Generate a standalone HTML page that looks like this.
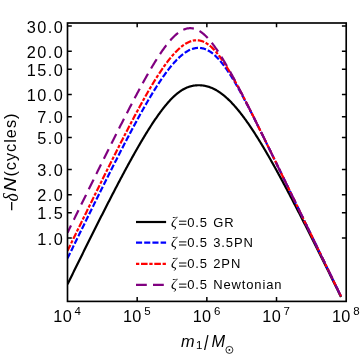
<!DOCTYPE html>
<html><head><meta charset="utf-8"><title>chart</title><style>html,body{margin:0;padding:0;background:#fff}body{width:361px;height:354px;overflow:hidden;font-family:"Liberation Sans",sans-serif}</style></head><body>
<svg width="361" height="354" viewBox="0 0 361 354" style="display:block;will-change:transform;font-family:'Liberation Sans',sans-serif">
<rect x="0" y="0" width="361" height="354" fill="#ffffff"/>
<defs><clipPath id="cp"><rect x="67.50" y="23.00" width="278.70" height="278.40"/></clipPath></defs>
<g clip-path="url(#cp)" fill="none" stroke-linecap="butt" stroke-linejoin="round">
<path d="M67.50,284.33 L68.00,283.31 L68.50,282.29 L69.00,281.27 L69.50,280.25 L70.00,279.23 L70.50,278.22 L71.00,277.20 L71.50,276.18 L72.00,275.17 L72.50,274.15 L73.00,273.13 L73.50,272.12 L74.00,271.10 L74.50,270.09 L75.00,269.07 L75.50,268.06 L76.00,267.04 L76.50,266.03 L77.00,265.02 L77.50,264.00 L78.00,262.99 L78.50,261.98 L79.00,260.96 L79.50,259.95 L80.00,258.94 L80.50,257.93 L81.00,256.92 L81.50,255.91 L82.00,254.90 L82.50,253.89 L83.00,252.88 L83.50,251.87 L84.00,250.86 L84.50,249.85 L85.00,248.84 L85.50,247.83 L86.00,246.83 L86.50,245.82 L87.00,244.81 L87.50,243.81 L88.00,242.80 L88.50,241.80 L89.00,240.79 L89.50,239.79 L90.00,238.78 L90.50,237.78 L91.00,236.78 L91.50,235.78 L92.00,234.78 L92.50,233.78 L93.00,232.78 L93.50,231.78 L94.00,230.78 L94.50,229.78 L95.00,228.78 L95.50,227.78 L96.00,226.79 L96.50,225.79 L97.00,224.80 L97.50,223.80 L98.00,222.81 L98.50,221.81 L99.00,220.82 L99.50,219.83 L100.00,218.84 L100.50,217.85 L101.00,216.86 L101.50,215.87 L102.00,214.88 L102.50,213.89 L103.00,212.91 L103.50,211.92 L104.00,210.94 L104.50,209.95 L105.00,208.97 L105.50,207.99 L106.00,207.01 L106.50,206.03 L107.00,205.05 L107.50,204.07 L108.00,203.09 L108.50,202.12 L109.00,201.14 L109.50,200.17 L110.00,199.19 L110.50,198.22 L111.00,197.25 L111.50,196.28 L112.00,195.31 L112.50,194.34 L113.00,193.38 L113.50,192.41 L114.00,191.45 L114.50,190.49 L115.00,189.52 L115.50,188.56 L116.00,187.61 L116.50,186.65 L117.00,185.69 L117.50,184.74 L118.00,183.78 L118.50,182.83 L119.00,181.88 L119.50,180.93 L120.00,179.99 L120.50,179.04 L121.00,178.10 L121.50,177.15 L122.00,176.21 L122.50,175.27 L123.00,174.34 L123.50,173.40 L124.00,172.47 L124.50,171.54 L125.00,170.60 L125.50,169.68 L126.00,168.75 L126.50,167.83 L127.00,166.90 L127.50,165.98 L128.00,165.06 L128.50,164.15 L129.00,163.23 L129.50,162.32 L130.00,161.41 L130.50,160.50 L131.00,159.60 L131.50,158.69 L132.00,157.79 L132.50,156.89 L133.00,156.00 L133.50,155.10 L134.00,154.21 L134.50,153.32 L135.00,152.44 L135.50,151.55 L136.00,150.67 L136.50,149.80 L137.00,148.92 L137.50,148.05 L138.00,147.18 L138.50,146.31 L139.00,145.45 L139.50,144.59 L140.00,143.73 L140.50,142.88 L141.00,142.02 L141.50,141.18 L142.00,140.33 L142.50,139.49 L143.00,138.65 L143.50,137.82 L144.00,136.99 L144.50,136.16 L145.00,135.33 L145.50,134.51 L146.00,133.70 L146.50,132.89 L147.00,132.08 L147.50,131.27 L148.00,130.47 L148.50,129.67 L149.00,128.88 L149.50,128.09 L150.00,127.31 L150.50,126.53 L151.00,125.75 L151.50,124.98 L152.00,124.22 L152.50,123.45 L153.00,122.70 L153.50,121.94 L154.00,121.20 L154.50,120.45 L155.00,119.72 L155.50,118.98 L156.00,118.26 L156.50,117.53 L157.00,116.82 L157.50,116.11 L158.00,115.40 L158.50,114.70 L159.00,114.00 L159.50,113.32 L160.00,112.63 L160.50,111.96 L161.00,111.29 L161.50,110.62 L162.00,109.96 L162.50,109.31 L163.00,108.66 L163.50,108.03 L164.00,107.39 L164.50,106.77 L165.00,106.15 L165.50,105.54 L166.00,104.93 L166.50,104.34 L167.00,103.75 L167.50,103.17 L168.00,102.59 L168.50,102.02 L169.00,101.47 L169.50,100.91 L170.00,100.37 L170.50,99.84 L171.00,99.31 L171.50,98.79 L172.00,98.29 L172.50,97.79 L173.00,97.29 L173.50,96.81 L174.00,96.34 L174.50,95.88 L175.00,95.42 L175.50,94.98 L176.00,94.54 L176.50,94.12 L177.00,93.70 L177.50,93.30 L178.00,92.90 L178.50,92.52 L179.00,92.14 L179.50,91.78 L180.00,91.42 L180.50,91.08 L181.00,90.74 L181.50,90.42 L182.00,90.11 L182.50,89.81 L183.00,89.51 L183.50,89.23 L184.00,88.96 L184.50,88.70 L185.00,88.45 L185.50,88.21 L186.00,87.98 L186.50,87.76 L187.00,87.55 L187.50,87.35 L188.00,87.16 L188.50,86.98 L189.00,86.81 L189.50,86.65 L190.00,86.50 L190.50,86.35 L191.00,86.22 L191.50,86.10 L192.00,85.98 L192.50,85.87 L193.00,85.78 L193.50,85.69 L194.00,85.60 L194.50,85.53 L195.00,85.47 L195.50,85.41 L196.00,85.36 L196.50,85.32 L197.00,85.29 L197.50,85.27 L198.00,85.25 L198.50,85.24 L199.00,85.24 L199.50,85.25 L200.00,85.27 L200.50,85.29 L201.00,85.32 L201.50,85.36 L202.00,85.41 L202.50,85.47 L203.00,85.53 L203.50,85.60 L204.00,85.68 L204.50,85.77 L205.00,85.86 L205.50,85.97 L206.00,86.08 L206.50,86.20 L207.00,86.33 L207.50,86.46 L208.00,86.61 L208.50,86.76 L209.00,86.92 L209.50,87.09 L210.00,87.27 L210.50,87.45 L211.00,87.65 L211.50,87.85 L212.00,88.06 L212.50,88.28 L213.00,88.51 L213.50,88.74 L214.00,88.99 L214.50,89.24 L215.00,89.50 L215.50,89.77 L216.00,90.05 L216.50,90.33 L217.00,90.63 L217.50,90.93 L218.00,91.24 L218.50,91.56 L219.00,91.89 L219.50,92.22 L220.00,92.57 L220.50,92.92 L221.00,93.28 L221.50,93.64 L222.00,94.02 L222.50,94.40 L223.00,94.79 L223.50,95.19 L224.00,95.60 L224.50,96.01 L225.00,96.44 L225.50,96.87 L226.00,97.31 L226.50,97.75 L227.00,98.20 L227.50,98.66 L228.00,99.13 L228.50,99.61 L229.00,100.09 L229.50,100.58 L230.00,101.08 L230.50,101.58 L231.00,102.09 L231.50,102.61 L232.00,103.14 L232.50,103.67 L233.00,104.21 L233.50,104.75 L234.00,105.30 L234.50,105.86 L235.00,106.43 L235.50,107.00 L236.00,107.58 L236.50,108.17 L237.00,108.76 L237.50,109.35 L238.00,109.96 L238.50,110.57 L239.00,111.19 L239.50,111.81 L240.00,112.44 L240.50,113.07 L241.00,113.71 L241.50,114.36 L242.00,115.01 L242.50,115.66 L243.00,116.33 L243.50,116.99 L244.00,117.67 L244.50,118.35 L245.00,119.03 L245.50,119.72 L246.00,120.41 L246.50,121.11 L247.00,121.82 L247.50,122.53 L248.00,123.24 L248.50,123.96 L249.00,124.69 L249.50,125.42 L250.00,126.15 L250.50,126.89 L251.00,127.63 L251.50,128.38 L252.00,129.13 L252.50,129.89 L253.00,130.65 L253.50,131.41 L254.00,132.18 L254.50,132.95 L255.00,133.73 L255.50,134.51 L256.00,135.30 L256.50,136.09 L257.00,136.88 L257.50,137.68 L258.00,138.48 L258.50,139.28 L259.00,140.09 L259.50,140.90 L260.00,141.72 L260.50,142.54 L261.00,143.36 L261.50,144.18 L262.00,145.01 L262.50,145.84 L263.00,146.68 L263.50,147.52 L264.00,148.36 L264.50,149.21 L265.00,150.05 L265.50,150.91 L266.00,151.76 L266.50,152.62 L267.00,153.48 L267.50,154.34 L268.00,155.20 L268.50,156.07 L269.00,156.94 L269.50,157.82 L270.00,158.69 L270.50,159.57 L271.00,160.45 L271.50,161.34 L272.00,162.22 L272.50,163.11 L273.00,164.00 L273.50,164.90 L274.00,165.79 L274.50,166.69 L275.00,167.59 L275.50,168.50 L276.00,169.40 L276.50,170.31 L277.00,171.22 L277.50,172.13 L278.00,173.04 L278.50,173.96 L279.00,174.87 L279.50,175.79 L280.00,176.71 L280.50,177.64 L281.00,178.56 L281.50,179.49 L282.00,180.42 L282.50,181.35 L283.00,182.28 L283.50,183.21 L284.00,184.15 L284.50,185.08 L285.00,186.02 L285.50,186.96 L286.00,187.90 L286.50,188.85 L287.00,189.79 L287.50,190.74 L288.00,191.68 L288.50,192.63 L289.00,193.58 L289.50,194.54 L290.00,195.49 L290.50,196.44 L291.00,197.40 L291.50,198.36 L292.00,199.31 L292.50,200.27 L293.00,201.24 L293.50,202.20 L294.00,203.16 L294.50,204.13 L295.00,205.09 L295.50,206.06 L296.00,207.03 L296.50,207.99 L297.00,208.96 L297.50,209.94 L298.00,210.91 L298.50,211.88 L299.00,212.86 L299.50,213.83 L300.00,214.81 L300.50,215.78 L301.00,216.76 L301.50,217.74 L302.00,218.72 L302.50,219.70 L303.00,220.68 L303.50,221.67 L304.00,222.65 L304.50,223.63 L305.00,224.62 L305.50,225.60 L306.00,226.59 L306.50,227.58 L307.00,228.57 L307.50,229.55 L308.00,230.54 L308.50,231.53 L309.00,232.53 L309.50,233.52 L310.00,234.51 L310.50,235.50 L311.00,236.50 L311.50,237.49 L312.00,238.49 L312.50,239.48 L313.00,240.48 L313.50,241.47 L314.00,242.47 L314.50,243.47 L315.00,244.47 L315.50,245.47 L316.00,246.47 L316.50,247.47 L317.00,248.47 L317.50,249.47 L318.00,250.47 L318.50,251.47 L319.00,252.48 L319.50,253.48 L320.00,254.48 L320.50,255.49 L321.00,256.49 L321.50,257.50 L322.00,258.50 L322.50,259.51 L323.00,260.51 L323.50,261.52 L324.00,262.53 L324.50,263.54 L325.00,264.54 L325.50,265.55 L326.00,266.56 L326.50,267.57 L327.00,268.58 L327.50,269.59 L328.00,270.60 L328.50,271.61 L329.00,272.62 L329.50,273.63 L330.00,274.64 L330.50,275.66 L331.00,276.67 L331.50,277.68 L332.00,278.69 L332.50,279.71 L333.00,280.72 L333.50,281.73 L334.00,282.75 L334.50,283.76 L335.00,284.78 L335.50,285.79 L336.00,286.81 L336.50,287.82 L337.00,288.84 L337.50,289.86 L338.00,290.87 L338.50,291.89 L339.00,292.90 L339.50,293.92 L340.00,294.94 L340.50,295.96 L341.00,296.97" stroke="#000000" stroke-width="2.20"/>
<path d="M67.50,258.38 L68.00,257.36 L68.50,256.33 L69.00,255.31 L69.50,254.29 L70.00,253.26 L70.50,252.24 L71.00,251.22 L71.50,250.19 L72.00,249.17 L72.50,248.15 L73.00,247.12 L73.50,246.10 L74.00,245.08 L74.50,244.06 L75.00,243.03 L75.50,242.01 L76.00,240.99 L76.50,239.97 L77.00,238.95 L77.50,237.93 L78.00,236.91 L78.50,235.88 L79.00,234.86 L79.50,233.84 L80.00,232.82 L80.50,231.80 L81.00,230.78 L81.50,229.76 L82.00,228.74 L82.50,227.73 L83.00,226.71 L83.50,225.69 L84.00,224.67 L84.50,223.65 L85.00,222.63 L85.50,221.62 L86.00,220.60 L86.50,219.58 L87.00,218.57 L87.50,217.55 L88.00,216.53 L88.50,215.52 L89.00,214.50 L89.50,213.49 L90.00,212.47 L90.50,211.46 L91.00,210.44 L91.50,209.43 L92.00,208.41 L92.50,207.40 L93.00,206.39 L93.50,205.38 L94.00,204.36 L94.50,203.35 L95.00,202.34 L95.50,201.33 L96.00,200.32 L96.50,199.31 L97.00,198.30 L97.50,197.29 L98.00,196.28 L98.50,195.28 L99.00,194.27 L99.50,193.26 L100.00,192.25 L100.50,191.25 L101.00,190.24 L101.50,189.24 L102.00,188.23 L102.50,187.23 L103.00,186.22 L103.50,185.22 L104.00,184.22 L104.50,183.22 L105.00,182.22 L105.50,181.22 L106.00,180.22 L106.50,179.22 L107.00,178.22 L107.50,177.22 L108.00,176.22 L108.50,175.23 L109.00,174.23 L109.50,173.24 L110.00,172.24 L110.50,171.25 L111.00,170.26 L111.50,169.26 L112.00,168.27 L112.50,167.28 L113.00,166.29 L113.50,165.31 L114.00,164.32 L114.50,163.33 L115.00,162.35 L115.50,161.36 L116.00,160.38 L116.50,159.39 L117.00,158.41 L117.50,157.43 L118.00,156.45 L118.50,155.47 L119.00,154.50 L119.50,153.52 L120.00,152.55 L120.50,151.57 L121.00,150.60 L121.50,149.63 L122.00,148.66 L122.50,147.69 L123.00,146.72 L123.50,145.75 L124.00,144.79 L124.50,143.82 L125.00,142.86 L125.50,141.90 L126.00,140.94 L126.50,139.98 L127.00,139.03 L127.50,138.07 L128.00,137.12 L128.50,136.17 L129.00,135.22 L129.50,134.27 L130.00,133.32 L130.50,132.38 L131.00,131.43 L131.50,130.49 L132.00,129.55 L132.50,128.61 L133.00,127.68 L133.50,126.75 L134.00,125.81 L134.50,124.88 L135.00,123.96 L135.50,123.03 L136.00,122.11 L136.50,121.19 L137.00,120.27 L137.50,119.35 L138.00,118.44 L138.50,117.52 L139.00,116.61 L139.50,115.71 L140.00,114.80 L140.50,113.90 L141.00,113.00 L141.50,112.11 L142.00,111.21 L142.50,110.32 L143.00,109.43 L143.50,108.55 L144.00,107.66 L144.50,106.79 L145.00,105.91 L145.50,105.04 L146.00,104.17 L146.50,103.30 L147.00,102.44 L147.50,101.57 L148.00,100.72 L148.50,99.86 L149.00,99.01 L149.50,98.17 L150.00,97.33 L150.50,96.49 L151.00,95.65 L151.50,94.82 L152.00,93.99 L152.50,93.17 L153.00,92.35 L153.50,91.54 L154.00,90.73 L154.50,89.92 L155.00,89.12 L155.50,88.32 L156.00,87.53 L156.50,86.74 L157.00,85.96 L157.50,85.18 L158.00,84.40 L158.50,83.63 L159.00,82.87 L159.50,82.11 L160.00,81.36 L160.50,80.61 L161.00,79.87 L161.50,79.13 L162.00,78.40 L162.50,77.67 L163.00,76.95 L163.50,76.24 L164.00,75.53 L164.50,74.83 L165.00,74.13 L165.50,73.45 L166.00,72.76 L166.50,72.09 L167.00,71.42 L167.50,70.75 L168.00,70.10 L168.50,69.45 L169.00,68.81 L169.50,68.17 L170.00,67.54 L170.50,66.92 L171.00,66.31 L171.50,65.71 L172.00,65.11 L172.50,64.52 L173.00,63.94 L173.50,63.37 L174.00,62.80 L174.50,62.24 L175.00,61.70 L175.50,61.16 L176.00,60.63 L176.50,60.10 L177.00,59.59 L177.50,59.09 L178.00,58.59 L178.50,58.11 L179.00,57.63 L179.50,57.17 L180.00,56.71 L180.50,56.27 L181.00,55.83 L181.50,55.41 L182.00,54.99 L182.50,54.59 L183.00,54.19 L183.50,53.81 L184.00,53.43 L184.50,53.07 L185.00,52.72 L185.50,52.38 L186.00,52.05 L186.50,51.74 L187.00,51.43 L187.50,51.14 L188.00,50.86 L188.50,50.59 L189.00,50.33 L189.50,50.09 L190.00,49.85 L190.50,49.63 L191.00,49.42 L191.50,49.23 L192.00,49.05 L192.50,48.88 L193.00,48.72 L193.50,48.58 L194.00,48.44 L194.50,48.33 L195.00,48.22 L195.50,48.13 L196.00,48.06 L196.50,47.99 L197.00,47.94 L197.50,47.91 L198.00,47.88 L198.50,47.87 L199.00,47.88 L199.50,47.90 L200.00,47.93 L200.50,47.98 L201.00,48.04 L201.50,48.12 L202.00,48.21 L202.50,48.31 L203.00,48.43 L203.50,48.56 L204.00,48.71 L204.50,48.87 L205.00,49.05 L205.50,49.24 L206.00,49.44 L206.50,49.66 L207.00,49.89 L207.50,50.14 L208.00,50.40 L208.50,50.67 L209.00,50.96 L209.50,51.26 L210.00,51.58 L210.50,51.91 L211.00,52.26 L211.50,52.61 L212.00,52.99 L212.50,53.37 L213.00,53.77 L213.50,54.18 L214.00,54.61 L214.50,55.05 L215.00,55.50 L215.50,55.96 L216.00,56.44 L216.50,56.93 L217.00,57.43 L217.50,57.95 L218.00,58.48 L218.50,59.01 L219.00,59.57 L219.50,60.13 L220.00,60.70 L220.50,61.29 L221.00,61.89 L221.50,62.50 L222.00,63.12 L222.50,63.75 L223.00,64.39 L223.50,65.04 L224.00,65.71 L224.50,66.38 L225.00,67.06 L225.50,67.76 L226.00,68.46 L226.50,69.17 L227.00,69.89 L227.50,70.62 L228.00,71.36 L228.50,72.11 L229.00,72.87 L229.50,73.63 L230.00,74.41 L230.50,75.19 L231.00,75.98 L231.50,76.77 L232.00,77.58 L232.50,78.39 L233.00,79.21 L233.50,80.03 L234.00,80.87 L234.50,81.71 L235.00,82.55 L235.50,83.40 L236.00,84.26 L236.50,85.13 L237.00,85.99 L237.50,86.87 L238.00,87.75 L238.50,88.64 L239.00,89.53 L239.50,90.42 L240.00,91.33 L240.50,92.23 L241.00,93.14 L241.50,94.06 L242.00,94.98 L242.50,95.90 L243.00,96.83 L243.50,97.76 L244.00,98.69 L244.50,99.63 L245.00,100.57 L245.50,101.52 L246.00,102.47 L246.50,103.42 L247.00,104.38 L247.50,105.33 L248.00,106.29 L248.50,107.26 L249.00,108.22 L249.50,109.19 L250.00,110.16 L250.50,111.14 L251.00,112.11 L251.50,113.09 L252.00,114.07 L252.50,115.06 L253.00,116.04 L253.50,117.03 L254.00,118.02 L254.50,119.01 L255.00,120.00 L255.50,120.99 L256.00,121.99 L256.50,122.98 L257.00,123.98 L257.50,124.98 L258.00,125.98 L258.50,126.98 L259.00,127.99 L259.50,128.99 L260.00,130.00 L260.50,131.00 L261.00,132.01 L261.50,133.02 L262.00,134.03 L262.50,135.04 L263.00,136.05 L263.50,137.06 L264.00,138.07 L264.50,139.09 L265.00,140.10 L265.50,141.12 L266.00,142.13 L266.50,143.15 L267.00,144.17 L267.50,145.18 L268.00,146.20 L268.50,147.22 L269.00,148.24 L269.50,149.26 L270.00,150.28 L270.50,151.30 L271.00,152.32 L271.50,153.34 L272.00,154.37 L272.50,155.39 L273.00,156.41 L273.50,157.43 L274.00,158.46 L274.50,159.48 L275.00,160.50 L275.50,161.53 L276.00,162.55 L276.50,163.58 L277.00,164.60 L277.50,165.63 L278.00,166.65 L278.50,167.68 L279.00,168.70 L279.50,169.73 L280.00,170.76 L280.50,171.78 L281.00,172.81 L281.50,173.84 L282.00,174.86 L282.50,175.89 L283.00,176.92 L283.50,177.94 L284.00,178.97 L284.50,180.00 L285.00,181.03 L285.50,182.05 L286.00,183.08 L286.50,184.11 L287.00,185.14 L287.50,186.17 L288.00,187.19 L288.50,188.22 L289.00,189.25 L289.50,190.28 L290.00,191.31 L290.50,192.34 L291.00,193.36 L291.50,194.39 L292.00,195.42 L292.50,196.45 L293.00,197.48 L293.50,198.51 L294.00,199.54 L294.50,200.57 L295.00,201.59 L295.50,202.62 L296.00,203.65 L296.50,204.68 L297.00,205.71 L297.50,206.74 L298.00,207.77 L298.50,208.80 L299.00,209.83 L299.50,210.86 L300.00,211.89 L300.50,212.91 L301.00,213.94 L301.50,214.97 L302.00,216.00 L302.50,217.03 L303.00,218.06 L303.50,219.09 L304.00,220.12 L304.50,221.15 L305.00,222.18 L305.50,223.21 L306.00,224.24 L306.50,225.27 L307.00,226.30 L307.50,227.33 L308.00,228.36 L308.50,229.39 L309.00,230.42 L309.50,231.45 L310.00,232.48 L310.50,233.50 L311.00,234.53 L311.50,235.56 L312.00,236.59 L312.50,237.62 L313.00,238.65 L313.50,239.68 L314.00,240.71 L314.50,241.74 L315.00,242.77 L315.50,243.80 L316.00,244.83 L316.50,245.86 L317.00,246.89 L317.50,247.92 L318.00,248.95 L318.50,249.98 L319.00,251.01 L319.50,252.04 L320.00,253.07 L320.50,254.10 L321.00,255.13 L321.50,256.16 L322.00,257.19 L322.50,258.22 L323.00,259.25 L323.50,260.28 L324.00,261.31 L324.50,262.34 L325.00,263.37 L325.50,264.40 L326.00,265.43 L326.50,266.45 L327.00,267.48 L327.50,268.51 L328.00,269.54 L328.50,270.57 L329.00,271.60 L329.50,272.63 L330.00,273.66 L330.50,274.69 L331.00,275.72 L331.50,276.75 L332.00,277.78 L332.50,278.81 L333.00,279.84 L333.50,280.87 L334.00,281.90 L334.50,282.93 L335.00,283.96 L335.50,284.99 L336.00,286.02 L336.50,287.05 L337.00,288.08 L337.50,289.11 L338.00,290.14 L338.50,291.17 L339.00,292.20 L339.50,293.23 L340.00,294.26 L340.50,295.29 L341.00,296.32" stroke="#0000ff" stroke-width="2.20" stroke-dasharray="6.1 2.1"/>
<path d="M67.50,250.83 L68.00,249.81 L68.50,248.78 L69.00,247.75 L69.50,246.73 L70.00,245.70 L70.50,244.67 L71.00,243.65 L71.50,242.62 L72.00,241.60 L72.50,240.57 L73.00,239.54 L73.50,238.52 L74.00,237.49 L74.50,236.47 L75.00,235.44 L75.50,234.42 L76.00,233.39 L76.50,232.37 L77.00,231.34 L77.50,230.32 L78.00,229.29 L78.50,228.27 L79.00,227.24 L79.50,226.22 L80.00,225.19 L80.50,224.17 L81.00,223.15 L81.50,222.12 L82.00,221.10 L82.50,220.08 L83.00,219.05 L83.50,218.03 L84.00,217.01 L84.50,215.99 L85.00,214.96 L85.50,213.94 L86.00,212.92 L86.50,211.90 L87.00,210.88 L87.50,209.85 L88.00,208.83 L88.50,207.81 L89.00,206.79 L89.50,205.77 L90.00,204.75 L90.50,203.73 L91.00,202.71 L91.50,201.69 L92.00,200.67 L92.50,199.65 L93.00,198.63 L93.50,197.62 L94.00,196.60 L94.50,195.58 L95.00,194.56 L95.50,193.55 L96.00,192.53 L96.50,191.51 L97.00,190.50 L97.50,189.48 L98.00,188.47 L98.50,187.45 L99.00,186.44 L99.50,185.42 L100.00,184.41 L100.50,183.39 L101.00,182.38 L101.50,181.37 L102.00,180.36 L102.50,179.34 L103.00,178.33 L103.50,177.32 L104.00,176.31 L104.50,175.30 L105.00,174.29 L105.50,173.28 L106.00,172.28 L106.50,171.27 L107.00,170.26 L107.50,169.25 L108.00,168.25 L108.50,167.24 L109.00,166.24 L109.50,165.23 L110.00,164.23 L110.50,163.23 L111.00,162.23 L111.50,161.22 L112.00,160.22 L112.50,159.22 L113.00,158.22 L113.50,157.23 L114.00,156.23 L114.50,155.23 L115.00,154.24 L115.50,153.24 L116.00,152.25 L116.50,151.25 L117.00,150.26 L117.50,149.27 L118.00,148.28 L118.50,147.29 L119.00,146.30 L119.50,145.31 L120.00,144.33 L120.50,143.34 L121.00,142.36 L121.50,141.37 L122.00,140.39 L122.50,139.41 L123.00,138.43 L123.50,137.45 L124.00,136.47 L124.50,135.50 L125.00,134.52 L125.50,133.55 L126.00,132.58 L126.50,131.61 L127.00,130.64 L127.50,129.67 L128.00,128.71 L128.50,127.74 L129.00,126.78 L129.50,125.82 L130.00,124.86 L130.50,123.90 L131.00,122.95 L131.50,121.99 L132.00,121.04 L132.50,120.09 L133.00,119.14 L133.50,118.20 L134.00,117.25 L134.50,116.31 L135.00,115.37 L135.50,114.43 L136.00,113.49 L136.50,112.56 L137.00,111.63 L137.50,110.70 L138.00,109.77 L138.50,108.85 L139.00,107.93 L139.50,107.01 L140.00,106.09 L140.50,105.18 L141.00,104.27 L141.50,103.36 L142.00,102.45 L142.50,101.55 L143.00,100.65 L143.50,99.75 L144.00,98.86 L144.50,97.97 L145.00,97.08 L145.50,96.20 L146.00,95.31 L146.50,94.44 L147.00,93.56 L147.50,92.69 L148.00,91.82 L148.50,90.96 L149.00,90.10 L149.50,89.25 L150.00,88.39 L150.50,87.55 L151.00,86.70 L151.50,85.86 L152.00,85.03 L152.50,84.20 L153.00,83.37 L153.50,82.55 L154.00,81.73 L154.50,80.91 L155.00,80.11 L155.50,79.30 L156.00,78.50 L156.50,77.71 L157.00,76.92 L157.50,76.14 L158.00,75.36 L158.50,74.58 L159.00,73.82 L159.50,73.05 L160.00,72.30 L160.50,71.54 L161.00,70.80 L161.50,70.06 L162.00,69.33 L162.50,68.60 L163.00,67.88 L163.50,67.16 L164.00,66.45 L164.50,65.75 L165.00,65.06 L165.50,64.37 L166.00,63.69 L166.50,63.01 L167.00,62.34 L167.50,61.68 L168.00,61.03 L168.50,60.39 L169.00,59.75 L169.50,59.12 L170.00,58.49 L170.50,57.88 L171.00,57.27 L171.50,56.67 L172.00,56.08 L172.50,55.50 L173.00,54.93 L173.50,54.36 L174.00,53.81 L174.50,53.26 L175.00,52.72 L175.50,52.20 L176.00,51.68 L176.50,51.17 L177.00,50.67 L177.50,50.18 L178.00,49.70 L178.50,49.23 L179.00,48.77 L179.50,48.32 L180.00,47.88 L180.50,47.45 L181.00,47.03 L181.50,46.62 L182.00,46.23 L182.50,45.84 L183.00,45.47 L183.50,45.11 L184.00,44.76 L184.50,44.42 L185.00,44.10 L185.50,43.78 L186.00,43.48 L186.50,43.19 L187.00,42.92 L187.50,42.65 L188.00,42.40 L188.50,42.16 L189.00,41.94 L189.50,41.73 L190.00,41.53 L190.50,41.35 L191.00,41.18 L191.50,41.02 L192.00,40.88 L192.50,40.75 L193.00,40.64 L193.50,40.54 L194.00,40.45 L194.50,40.38 L195.00,40.33 L195.50,40.29 L196.00,40.26 L196.50,40.25 L197.00,40.26 L197.50,40.28 L198.00,40.31 L198.50,40.36 L199.00,40.43 L199.50,40.51 L200.00,40.61 L200.50,40.72 L201.00,40.85 L201.50,41.00 L202.00,41.16 L202.50,41.34 L203.00,41.53 L203.50,41.74 L204.00,41.96 L204.50,42.20 L205.00,42.46 L205.50,42.73 L206.00,43.01 L206.50,43.32 L207.00,43.63 L207.50,43.97 L208.00,44.32 L208.50,44.68 L209.00,45.06 L209.50,45.45 L210.00,45.86 L210.50,46.29 L211.00,46.73 L211.50,47.18 L212.00,47.65 L212.50,48.13 L213.00,48.63 L213.50,49.14 L214.00,49.66 L214.50,50.20 L215.00,50.75 L215.50,51.31 L216.00,51.89 L216.50,52.48 L217.00,53.08 L217.50,53.69 L218.00,54.32 L218.50,54.96 L219.00,55.61 L219.50,56.27 L220.00,56.94 L220.50,57.63 L221.00,58.32 L221.50,59.02 L222.00,59.74 L222.50,60.46 L223.00,61.20 L223.50,61.94 L224.00,62.70 L224.50,63.46 L225.00,64.23 L225.50,65.01 L226.00,65.80 L226.50,66.60 L227.00,67.40 L227.50,68.21 L228.00,69.03 L228.50,69.86 L229.00,70.69 L229.50,71.53 L230.00,72.38 L230.50,73.24 L231.00,74.10 L231.50,74.96 L232.00,75.83 L232.50,76.71 L233.00,77.60 L233.50,78.48 L234.00,79.38 L234.50,80.28 L235.00,81.18 L235.50,82.09 L236.00,83.00 L236.50,83.92 L237.00,84.84 L237.50,85.77 L238.00,86.70 L238.50,87.63 L239.00,88.57 L239.50,89.51 L240.00,90.45 L240.50,91.40 L241.00,92.35 L241.50,93.30 L242.00,94.26 L242.50,95.22 L243.00,96.18 L243.50,97.14 L244.00,98.11 L244.50,99.08 L245.00,100.05 L245.50,101.02 L246.00,102.00 L246.50,102.98 L247.00,103.96 L247.50,104.94 L248.00,105.92 L248.50,106.91 L249.00,107.90 L249.50,108.89 L250.00,109.88 L250.50,110.87 L251.00,111.86 L251.50,112.86 L252.00,113.85 L252.50,114.85 L253.00,115.85 L253.50,116.85 L254.00,117.85 L254.50,118.85 L255.00,119.86 L255.50,120.86 L256.00,121.87 L256.50,122.87 L257.00,123.88 L257.50,124.89 L258.00,125.90 L258.50,126.91 L259.00,127.92 L259.50,128.93 L260.00,129.94 L260.50,130.95 L261.00,131.97 L261.50,132.98 L262.00,134.00 L262.50,135.01 L263.00,136.03 L263.50,137.04 L264.00,138.06 L264.50,139.08 L265.00,140.09 L265.50,141.11 L266.00,142.13 L266.50,143.15 L267.00,144.17 L267.50,145.19 L268.00,146.21 L268.50,147.23 L269.00,148.25 L269.50,149.27 L270.00,150.30 L270.50,151.32 L271.00,152.34 L271.50,153.36 L272.00,154.39 L272.50,155.41 L273.00,156.43 L273.50,157.46 L274.00,158.48 L274.50,159.50 L275.00,160.53 L275.50,161.55 L276.00,162.58 L276.50,163.60 L277.00,164.63 L277.50,165.65 L278.00,166.68 L278.50,167.70 L279.00,168.73 L279.50,169.75 L280.00,170.78 L280.50,171.81 L281.00,172.83 L281.50,173.86 L282.00,174.89 L282.50,175.91 L283.00,176.94 L283.50,177.97 L284.00,178.99 L284.50,180.02 L285.00,181.05 L285.50,182.08 L286.00,183.10 L286.50,184.13 L287.00,185.16 L287.50,186.19 L288.00,187.21 L288.50,188.24 L289.00,189.27 L289.50,190.30 L290.00,191.33 L290.50,192.35 L291.00,193.38 L291.50,194.41 L292.00,195.44 L292.50,196.47 L293.00,197.49 L293.50,198.52 L294.00,199.55 L294.50,200.58 L295.00,201.61 L295.50,202.64 L296.00,203.67 L296.50,204.70 L297.00,205.72 L297.50,206.75 L298.00,207.78 L298.50,208.81 L299.00,209.84 L299.50,210.87 L300.00,211.90 L300.50,212.93 L301.00,213.96 L301.50,214.98 L302.00,216.01 L302.50,217.04 L303.00,218.07 L303.50,219.10 L304.00,220.13 L304.50,221.16 L305.00,222.19 L305.50,223.22 L306.00,224.25 L306.50,225.28 L307.00,226.31 L307.50,227.33 L308.00,228.36 L308.50,229.39 L309.00,230.42 L309.50,231.45 L310.00,232.48 L310.50,233.51 L311.00,234.54 L311.50,235.57 L312.00,236.60 L312.50,237.63 L313.00,238.66 L313.50,239.69 L314.00,240.72 L314.50,241.75 L315.00,242.78 L315.50,243.81 L316.00,244.84 L316.50,245.86 L317.00,246.89 L317.50,247.92 L318.00,248.95 L318.50,249.98 L319.00,251.01 L319.50,252.04 L320.00,253.07 L320.50,254.10 L321.00,255.13 L321.50,256.16 L322.00,257.19 L322.50,258.22 L323.00,259.25 L323.50,260.28 L324.00,261.31 L324.50,262.34 L325.00,263.37 L325.50,264.40 L326.00,265.43 L326.50,266.46 L327.00,267.49 L327.50,268.52 L328.00,269.55 L328.50,270.58 L329.00,271.61 L329.50,272.64 L330.00,273.66 L330.50,274.69 L331.00,275.72 L331.50,276.75 L332.00,277.78 L332.50,278.81 L333.00,279.84 L333.50,280.87 L334.00,281.90 L334.50,282.93 L335.00,283.96 L335.50,284.99 L336.00,286.02 L336.50,287.05 L337.00,288.08 L337.50,289.11 L338.00,290.14 L338.50,291.17 L339.00,292.20 L339.50,293.23 L340.00,294.26 L340.50,295.29 L341.00,296.32" stroke="#ff0000" stroke-width="2.20" stroke-dasharray="6.6 1.7 3.3 1.7"/>
<path d="M67.50,232.69 L68.00,231.67 L68.50,230.65 L69.00,229.62 L69.50,228.60 L70.00,227.58 L70.50,226.55 L71.00,225.53 L71.50,224.51 L72.00,223.49 L72.50,222.47 L73.00,221.44 L73.50,220.42 L74.00,219.40 L74.50,218.38 L75.00,217.36 L75.50,216.34 L76.00,215.32 L76.50,214.30 L77.00,213.28 L77.50,212.26 L78.00,211.24 L78.50,210.22 L79.00,209.20 L79.50,208.18 L80.00,207.16 L80.50,206.14 L81.00,205.12 L81.50,204.10 L82.00,203.08 L82.50,202.06 L83.00,201.04 L83.50,200.02 L84.00,199.01 L84.50,197.99 L85.00,196.97 L85.50,195.95 L86.00,194.94 L86.50,193.92 L87.00,192.90 L87.50,191.88 L88.00,190.87 L88.50,189.85 L89.00,188.84 L89.50,187.82 L90.00,186.80 L90.50,185.79 L91.00,184.77 L91.50,183.76 L92.00,182.75 L92.50,181.73 L93.00,180.72 L93.50,179.70 L94.00,178.69 L94.50,177.68 L95.00,176.66 L95.50,175.65 L96.00,174.64 L96.50,173.63 L97.00,172.62 L97.50,171.61 L98.00,170.59 L98.50,169.58 L99.00,168.57 L99.50,167.56 L100.00,166.55 L100.50,165.55 L101.00,164.54 L101.50,163.53 L102.00,162.52 L102.50,161.51 L103.00,160.51 L103.50,159.50 L104.00,158.49 L104.50,157.49 L105.00,156.48 L105.50,155.48 L106.00,154.47 L106.50,153.47 L107.00,152.46 L107.50,151.46 L108.00,150.46 L108.50,149.46 L109.00,148.46 L109.50,147.45 L110.00,146.45 L110.50,145.45 L111.00,144.46 L111.50,143.46 L112.00,142.46 L112.50,141.46 L113.00,140.46 L113.50,139.47 L114.00,138.47 L114.50,137.48 L115.00,136.48 L115.50,135.49 L116.00,134.50 L116.50,133.51 L117.00,132.51 L117.50,131.52 L118.00,130.53 L118.50,129.54 L119.00,128.56 L119.50,127.57 L120.00,126.58 L120.50,125.60 L121.00,124.61 L121.50,123.63 L122.00,122.65 L122.50,121.67 L123.00,120.69 L123.50,119.71 L124.00,118.73 L124.50,117.75 L125.00,116.77 L125.50,115.80 L126.00,114.82 L126.50,113.85 L127.00,112.88 L127.50,111.91 L128.00,110.94 L128.50,109.97 L129.00,109.01 L129.50,108.04 L130.00,107.08 L130.50,106.12 L131.00,105.16 L131.50,104.20 L132.00,103.24 L132.50,102.29 L133.00,101.33 L133.50,100.38 L134.00,99.43 L134.50,98.48 L135.00,97.53 L135.50,96.59 L136.00,95.65 L136.50,94.71 L137.00,93.77 L137.50,92.83 L138.00,91.90 L138.50,90.96 L139.00,90.03 L139.50,89.11 L140.00,88.18 L140.50,87.26 L141.00,86.34 L141.50,85.42 L142.00,84.51 L142.50,83.59 L143.00,82.68 L143.50,81.78 L144.00,80.87 L144.50,79.97 L145.00,79.08 L145.50,78.18 L146.00,77.29 L146.50,76.41 L147.00,75.52 L147.50,74.64 L148.00,73.76 L148.50,72.89 L149.00,72.02 L149.50,71.16 L150.00,70.30 L150.50,69.44 L151.00,68.59 L151.50,67.74 L152.00,66.90 L152.50,66.06 L153.00,65.23 L153.50,64.40 L154.00,63.57 L154.50,62.75 L155.00,61.94 L155.50,61.13 L156.00,60.33 L156.50,59.53 L157.00,58.74 L157.50,57.95 L158.00,57.18 L158.50,56.40 L159.00,55.64 L159.50,54.88 L160.00,54.12 L160.50,53.38 L161.00,52.64 L161.50,51.90 L162.00,51.18 L162.50,50.46 L163.00,49.75 L163.50,49.05 L164.00,48.36 L164.50,47.67 L165.00,46.99 L165.50,46.33 L166.00,45.67 L166.50,45.02 L167.00,44.38 L167.50,43.74 L168.00,43.12 L168.50,42.51 L169.00,41.91 L169.50,41.31 L170.00,40.73 L170.50,40.16 L171.00,39.60 L171.50,39.05 L172.00,38.51 L172.50,37.99 L173.00,37.47 L173.50,36.97 L174.00,36.48 L174.50,36.00 L175.00,35.53 L175.50,35.08 L176.00,34.63 L176.50,34.21 L177.00,33.79 L177.50,33.39 L178.00,33.00 L178.50,32.63 L179.00,32.27 L179.50,31.92 L180.00,31.59 L180.50,31.27 L181.00,30.97 L181.50,30.68 L182.00,30.41 L182.50,30.15 L183.00,29.91 L183.50,29.68 L184.00,29.47 L184.50,29.28 L185.00,29.10 L185.50,28.93 L186.00,28.78 L186.50,28.65 L187.00,28.54 L187.50,28.44 L188.00,28.36 L188.50,28.29 L189.00,28.24 L189.50,28.21 L190.00,28.19 L190.50,28.19 L191.00,28.21 L191.50,28.24 L192.00,28.29 L192.50,28.36 L193.00,28.45 L193.50,28.55 L194.00,28.66 L194.50,28.80 L195.00,28.95 L195.50,29.11 L196.00,29.30 L196.50,29.50 L197.00,29.71 L197.50,29.95 L198.00,30.20 L198.50,30.46 L199.00,30.74 L199.50,31.04 L200.00,31.35 L200.50,31.68 L201.00,32.02 L201.50,32.38 L202.00,32.75 L202.50,33.14 L203.00,33.54 L203.50,33.96 L204.00,34.39 L204.50,34.83 L205.00,35.29 L205.50,35.76 L206.00,36.25 L206.50,36.75 L207.00,37.27 L207.50,37.79 L208.00,38.33 L208.50,38.88 L209.00,39.45 L209.50,40.02 L210.00,40.61 L210.50,41.21 L211.00,41.82 L211.50,42.44 L212.00,43.08 L212.50,43.72 L213.00,44.38 L213.50,45.04 L214.00,45.72 L214.50,46.40 L215.00,47.10 L215.50,47.80 L216.00,48.52 L216.50,49.24 L217.00,49.97 L217.50,50.71 L218.00,51.46 L218.50,52.22 L219.00,52.99 L219.50,53.76 L220.00,54.54 L220.50,55.33 L221.00,56.13 L221.50,56.93 L222.00,57.74 L222.50,58.55 L223.00,59.38 L223.50,60.21 L224.00,61.04 L224.50,61.88 L225.00,62.73 L225.50,63.59 L226.00,64.44 L226.50,65.31 L227.00,66.18 L227.50,67.05 L228.00,67.93 L228.50,68.82 L229.00,69.71 L229.50,70.60 L230.00,71.50 L230.50,72.40 L231.00,73.31 L231.50,74.22 L232.00,75.13 L232.50,76.05 L233.00,76.97 L233.50,77.89 L234.00,78.82 L234.50,79.76 L235.00,80.69 L235.50,81.63 L236.00,82.57 L236.50,83.51 L237.00,84.46 L237.50,85.41 L238.00,86.36 L238.50,87.32 L239.00,88.28 L239.50,89.24 L240.00,90.20 L240.50,91.16 L241.00,92.13 L241.50,93.10 L242.00,94.07 L242.50,95.04 L243.00,96.02 L243.50,97.00 L244.00,97.97 L244.50,98.95 L245.00,99.94 L245.50,100.92 L246.00,101.90 L246.50,102.89 L247.00,103.88 L247.50,104.87 L248.00,105.86 L248.50,106.85 L249.00,107.85 L249.50,108.84 L250.00,109.84 L250.50,110.83 L251.00,111.83 L251.50,112.83 L252.00,113.83 L252.50,114.83 L253.00,115.84 L253.50,116.84 L254.00,117.84 L254.50,118.85 L255.00,119.86 L255.50,120.86 L256.00,121.87 L256.50,122.88 L257.00,123.89 L257.50,124.90 L258.00,125.91 L258.50,126.92 L259.00,127.93 L259.50,128.94 L260.00,129.96 L260.50,130.97 L261.00,131.98 L261.50,133.00 L262.00,134.01 L262.50,135.03 L263.00,136.05 L263.50,137.06 L264.00,138.08 L264.50,139.10 L265.00,140.12 L265.50,141.13 L266.00,142.15 L266.50,143.17 L267.00,144.19 L267.50,145.21 L268.00,146.23 L268.50,147.25 L269.00,148.27 L269.50,149.30 L270.00,150.32 L270.50,151.34 L271.00,152.36 L271.50,153.38 L272.00,154.41 L272.50,155.43 L273.00,156.45 L273.50,157.48 L274.00,158.50 L274.50,159.52 L275.00,160.55 L275.50,161.57 L276.00,162.60 L276.50,163.62 L277.00,164.64 L277.50,165.67 L278.00,166.69 L278.50,167.72 L279.00,168.75 L279.50,169.77 L280.00,170.80 L280.50,171.82 L281.00,172.85 L281.50,173.87 L282.00,174.90 L282.50,175.93 L283.00,176.95 L283.50,177.98 L284.00,179.01 L284.50,180.03 L285.00,181.06 L285.50,182.09 L286.00,183.12 L286.50,184.14 L287.00,185.17 L287.50,186.20 L288.00,187.22 L288.50,188.25 L289.00,189.28 L289.50,190.31 L290.00,191.34 L290.50,192.36 L291.00,193.39 L291.50,194.42 L292.00,195.45 L292.50,196.48 L293.00,197.50 L293.50,198.53 L294.00,199.56 L294.50,200.59 L295.00,201.62 L295.50,202.65 L296.00,203.67 L296.50,204.70 L297.00,205.73 L297.50,206.76 L298.00,207.79 L298.50,208.82 L299.00,209.85 L299.50,210.87 L300.00,211.90 L300.50,212.93 L301.00,213.96 L301.50,214.99 L302.00,216.02 L302.50,217.05 L303.00,218.08 L303.50,219.11 L304.00,220.13 L304.50,221.16 L305.00,222.19 L305.50,223.22 L306.00,224.25 L306.50,225.28 L307.00,226.31 L307.50,227.34 L308.00,228.37 L308.50,229.40 L309.00,230.43 L309.50,231.46 L310.00,232.48 L310.50,233.51 L311.00,234.54 L311.50,235.57 L312.00,236.60 L312.50,237.63 L313.00,238.66 L313.50,239.69 L314.00,240.72 L314.50,241.75 L315.00,242.78 L315.50,243.81 L316.00,244.84 L316.50,245.87 L317.00,246.90 L317.50,247.93 L318.00,248.96 L318.50,249.99 L319.00,251.01 L319.50,252.04 L320.00,253.07 L320.50,254.10 L321.00,255.13 L321.50,256.16 L322.00,257.19 L322.50,258.22 L323.00,259.25 L323.50,260.28 L324.00,261.31 L324.50,262.34 L325.00,263.37 L325.50,264.40 L326.00,265.43 L326.50,266.46 L327.00,267.49 L327.50,268.52 L328.00,269.55 L328.50,270.58 L329.00,271.61 L329.50,272.64 L330.00,273.67 L330.50,274.70 L331.00,275.73 L331.50,276.76 L332.00,277.78 L332.50,278.81 L333.00,279.84 L333.50,280.87 L334.00,281.90 L334.50,282.93 L335.00,283.96 L335.50,284.99 L336.00,286.02 L336.50,287.05 L337.00,288.08 L337.50,289.11 L338.00,290.14 L338.50,291.17 L339.00,292.20 L339.50,293.23 L340.00,294.26 L340.50,295.29 L341.00,296.32" stroke="#800080" stroke-width="2.20" stroke-dasharray="10.8 6.2" stroke-dashoffset="2.7"/>
</g>
<rect x="67.50" y="23.00" width="278.70" height="278.40" fill="none" stroke="#000" stroke-width="1.65"/>
<path d="M137.18,301.40 v-4.30 M137.18,23.00 v4.30 M206.85,301.40 v-4.30 M206.85,23.00 v4.30 M276.52,301.40 v-4.30 M276.52,23.00 v4.30 M67.50,25.93 h4.30 M346.20,25.93 h-4.30 M67.50,51.20 h4.30 M346.20,51.20 h-4.30 M67.50,69.13 h4.30 M346.20,69.13 h-4.30 M67.50,94.40 h4.30 M346.20,94.40 h-4.30 M67.50,116.63 h4.30 M346.20,116.63 h-4.30 M67.50,137.60 h4.30 M346.20,137.60 h-4.30 M67.50,169.43 h4.30 M346.20,169.43 h-4.30 M67.50,194.70 h4.30 M346.20,194.70 h-4.30 M67.50,212.63 h4.30 M346.20,212.63 h-4.30 M67.50,237.90 h4.30 M346.20,237.90 h-4.30" stroke="#000" stroke-width="1.5" fill="none"/>
<g fill="#000">
<text transform="translate(64.10,32.63) scale(1.000,1.000)" font-size="16.30" letter-spacing="1.40" text-anchor="end" >30.0</text>
<text transform="translate(64.10,57.90) scale(1.000,1.000)" font-size="16.30" letter-spacing="1.40" text-anchor="end" >20.0</text>
<text transform="translate(64.10,75.83) scale(1.000,1.000)" font-size="16.30" letter-spacing="1.40" text-anchor="end" >15.0</text>
<text transform="translate(64.10,101.10) scale(1.000,1.000)" font-size="16.30" letter-spacing="1.40" text-anchor="end" >10.0</text>
<text transform="translate(64.10,123.33) scale(1.000,1.000)" font-size="16.30" letter-spacing="1.40" text-anchor="end" >7.0</text>
<text transform="translate(64.10,144.30) scale(1.000,1.000)" font-size="16.30" letter-spacing="1.40" text-anchor="end" >5.0</text>
<text transform="translate(64.10,176.13) scale(1.000,1.000)" font-size="16.30" letter-spacing="1.40" text-anchor="end" >3.0</text>
<text transform="translate(64.10,201.40) scale(1.000,1.000)" font-size="16.30" letter-spacing="1.40" text-anchor="end" >2.0</text>
<text transform="translate(64.10,219.33) scale(1.000,1.000)" font-size="16.30" letter-spacing="1.40" text-anchor="end" >1.5</text>
<text transform="translate(64.10,244.60) scale(1.000,1.000)" font-size="16.30" letter-spacing="1.40" text-anchor="end" >1.0</text>
<text transform="translate(53.30,322.30) scale(1.000,1.000)" font-size="16.30" letter-spacing="0.30" text-anchor="start" >10</text>
<text transform="translate(74.60,315.00) scale(1.000,1.000)" font-size="11.50" letter-spacing="0.00" text-anchor="start" >4</text>
<text transform="translate(122.98,322.30) scale(1.000,1.000)" font-size="16.30" letter-spacing="0.30" text-anchor="start" >10</text>
<text transform="translate(144.28,315.00) scale(1.000,1.000)" font-size="11.50" letter-spacing="0.00" text-anchor="start" >5</text>
<text transform="translate(192.65,322.30) scale(1.000,1.000)" font-size="16.30" letter-spacing="0.30" text-anchor="start" >10</text>
<text transform="translate(213.95,315.00) scale(1.000,1.000)" font-size="11.50" letter-spacing="0.00" text-anchor="start" >6</text>
<text transform="translate(262.32,322.30) scale(1.000,1.000)" font-size="16.30" letter-spacing="0.30" text-anchor="start" >10</text>
<text transform="translate(283.62,315.00) scale(1.000,1.000)" font-size="11.50" letter-spacing="0.00" text-anchor="start" >7</text>
<text transform="translate(332.00,322.30) scale(1.000,1.000)" font-size="16.30" letter-spacing="0.30" text-anchor="start" >10</text>
<text transform="translate(353.30,315.00) scale(1.000,1.000)" font-size="11.50" letter-spacing="0.00" text-anchor="start" >8</text>
<text transform="translate(171.00,226.50) scale(1.000,1.000)" font-size="14.50" letter-spacing="0.00" text-anchor="start" font-family="'Liberation Serif',serif" font-style="italic">&#950;</text>
<path d="M179,221.20 h7.4 M179,224.30 h7.4" stroke="#000" stroke-width="0.95" fill="none"/>
<text transform="translate(187.20,226.50) scale(1.000,1.035)" font-size="13.00" letter-spacing="0.85" text-anchor="start" >0.5</text>
<text transform="translate(213.30,226.50) scale(1.000,1.035)" font-size="13.00" letter-spacing="0.85" text-anchor="start" >GR</text>
<text transform="translate(171.00,247.20) scale(1.000,1.000)" font-size="14.50" letter-spacing="0.00" text-anchor="start" font-family="'Liberation Serif',serif" font-style="italic">&#950;</text>
<path d="M179,241.90 h7.4 M179,245.00 h7.4" stroke="#000" stroke-width="0.95" fill="none"/>
<text transform="translate(187.20,247.20) scale(1.000,1.035)" font-size="13.00" letter-spacing="0.85" text-anchor="start" >0.5</text>
<text transform="translate(213.30,247.20) scale(1.000,1.035)" font-size="13.00" letter-spacing="0.85" text-anchor="start" >3.5PN</text>
<text transform="translate(171.00,268.30) scale(1.000,1.000)" font-size="14.50" letter-spacing="0.00" text-anchor="start" font-family="'Liberation Serif',serif" font-style="italic">&#950;</text>
<path d="M179,263.00 h7.4 M179,266.10 h7.4" stroke="#000" stroke-width="0.95" fill="none"/>
<text transform="translate(187.20,268.30) scale(1.000,1.035)" font-size="13.00" letter-spacing="0.85" text-anchor="start" >0.5</text>
<text transform="translate(213.30,268.30) scale(1.000,1.035)" font-size="13.00" letter-spacing="0.85" text-anchor="start" >2PN</text>
<text transform="translate(171.00,289.40) scale(1.000,1.000)" font-size="14.50" letter-spacing="0.00" text-anchor="start" font-family="'Liberation Serif',serif" font-style="italic">&#950;</text>
<path d="M179,284.10 h7.4 M179,287.20 h7.4" stroke="#000" stroke-width="0.95" fill="none"/>
<text transform="translate(187.20,289.40) scale(1.000,1.035)" font-size="13.00" letter-spacing="0.85" text-anchor="start" >0.5</text>
<text transform="translate(213.30,289.40) scale(1.000,1.035)" font-size="13.00" letter-spacing="0.85" text-anchor="start" >Newtonian</text>
</g>
<g fill="none">
<path d="M136,222.00 H166.1" stroke="#000000" stroke-width="2.20"/>
<path d="M136,242.70 H166.1" stroke="#0000ff" stroke-width="2.20" stroke-dasharray="6.1 2.1"/>
<path d="M136,263.80 H166.1" stroke="#ff0000" stroke-width="2.20" stroke-dasharray="6.6 1.7 3.3 1.7" stroke-dashoffset="8.3"/>
<path d="M136,284.90 H166.1" stroke="#800080" stroke-width="2.20" stroke-dasharray="10.8 6.2"/>
</g>
<g fill="#000">
<text transform="translate(181.00,347.40) scale(1.000,1.000)" font-size="16.30" letter-spacing="0.00" text-anchor="start" font-style="italic">m</text>
<text transform="translate(196.00,349.20) scale(1.000,1.000)" font-size="11.50" letter-spacing="0.00" text-anchor="start" >1</text>
<text transform="translate(204.00,349.60) scale(1.000,1.200)" font-size="16.30" letter-spacing="0.00" text-anchor="start" >/</text>
<text transform="translate(211.50,347.40) scale(1.000,1.000)" font-size="16.30" letter-spacing="0.00" text-anchor="start" font-style="italic">M</text>
<circle cx="229.4" cy="349.9" r="3.5" fill="none" stroke="#000" stroke-width="0.8"/><circle cx="229.4" cy="349.9" r="0.9" fill="#000"/>
</g>
<g transform="translate(16.4,205) rotate(-90)" fill="#000">
<path d="M-5.3,-4.7 H3.1" stroke="#000" stroke-width="1.3" fill="none"/>
<text transform="translate(3.60,1.60) scale(0.880,1.000)" font-size="20.00" letter-spacing="0.00" text-anchor="start" font-family="'Liberation Serif',serif" font-style="italic">&#948;</text>
<text transform="translate(13.40,0.00) scale(1.180,1.000)" font-size="16.30" letter-spacing="0.00" text-anchor="start" font-style="italic">N</text>
<text transform="translate(28.40,0.00) scale(1.000,1.000)" font-size="16.30" letter-spacing="1.00" text-anchor="start" >(cycles)</text>
</g>
</svg>
</body></html>
